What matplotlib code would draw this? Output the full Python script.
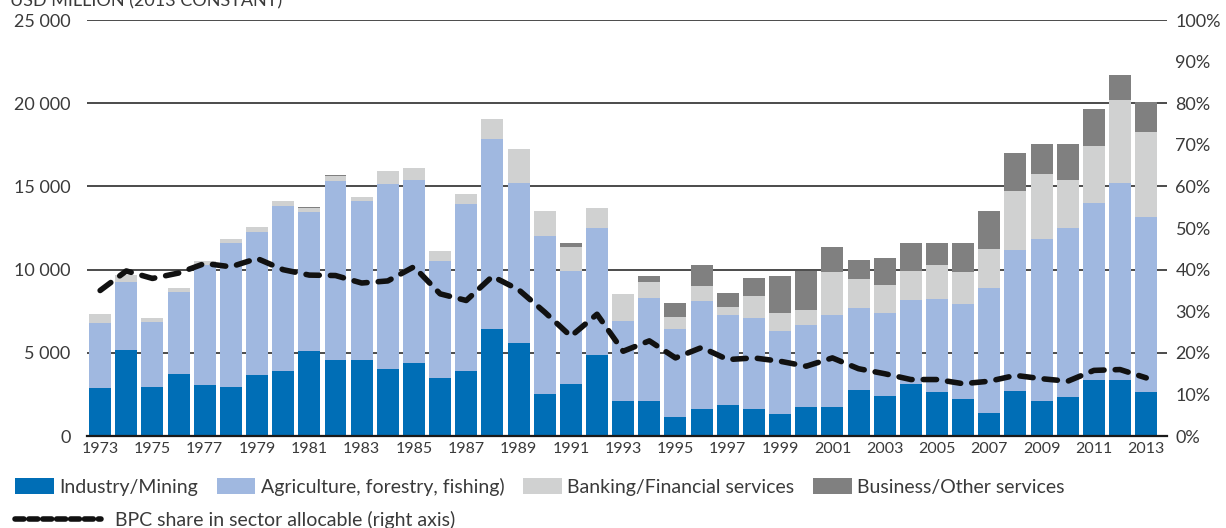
import matplotlib
matplotlib.use("Agg")
import matplotlib.pyplot as plt
import matplotlib.ticker as mticker
from matplotlib.patches import Patch
from matplotlib.lines import Line2D
import numpy as np

plt.rcParams['font.family'] = ['Lato', 'DejaVu Sans']

years = list(range(1973, 2014))

# stacked tops (USD million), then turned into segments
industry = [2920, 5200, 2980, 3760, 3100, 2980, 3700, 3900, 5140, 4600,
            4600, 4060, 4420, 3520, 3940, 6460, 5620, 2560, 3160, 4900,
            2140, 2140, 1120, 1660, 1900, 1600, 1300, 1780, 1780, 2800,
            2440, 3160, 2680, 2260, 1360, 2740, 2140, 2380, 3400, 3400,
            2680]
agri_top = [6820, 9280, 6880, 8680, 10300, 11620, 12280, 13840, 13480, 15340,
            14140, 15160, 15400, 10540, 13960, 17860, 15220, 12040, 9940, 12520,
            6940, 8320, 6460, 8140, 7300, 7120, 6340, 6700, 7300, 7720,
            7420, 8200, 8260, 7960, 8920, 11200, 11860, 12520, 14020, 15220,
            13180]
bank_top = [7340, 9680, 7120, 8920, 10540, 11820, 12580, 14120, 13680, 15660,
            14380, 15940, 16120, 11140, 14560, 19080, 17260, 13500, 11380, 13680,
            8520, 9280, 7180, 9040, 7780, 8440, 7420, 7600, 9880, 9460,
            9100, 9940, 10300, 9880, 11260, 14740, 15760, 15400, 17440, 20200,
            18280]
business_top = [7340, 9680, 7120, 8920, 10540, 11860, 12580, 14120, 13740, 15700,
                14380, 15940, 16120, 11140, 14560, 19080, 17260, 13540, 11620, 13720,
                8560, 9640, 8020, 10300, 8620, 9520, 9640, 9940, 11380, 10600,
                10720, 11620, 11620, 11620, 13540, 17020, 17560, 17560, 19660, 21700,
                20080]
bpc_share = [35.0, 39.7, 37.9, 39.2, 41.5, 40.7, 42.7, 40.0, 38.7, 38.6,
             36.8, 37.3, 40.7, 34.2, 32.6, 38.4, 35.2, 29.8, 24.0, 29.3,
             20.4, 22.9, 18.8, 21.3, 18.4, 18.8, 18.0, 16.8, 18.8, 16.2,
             15.0, 13.6, 13.6, 12.6, 13.2, 14.6, 13.8, 13.2, 15.8, 16.0,
             14.0]

labels = ["Industry/Mining", "Agriculture, forestry, fishing)",
          "Banking/Financial services", "Business/Other services"]
colors = ["#006eb6", "#a0b8e0", "#d0d1d1", "#808080"]

ind = np.array(industry)
agri = np.array(agri_top) - ind
bank = np.array(bank_top) - np.array(agri_top)
bus = np.array(business_top) - np.array(bank_top)

fig = plt.figure(figsize=(12.26, 5.28), dpi=100)
ax = fig.add_axes([0.071, 0.174, 0.881, 0.788])

w = 0.84
ax.bar(years, ind, w, color=colors[0], zorder=2)
ax.bar(years, agri, w, bottom=ind, color=colors[1], zorder=2)
ax.bar(years, bank, w, bottom=agri_top, color=colors[2], zorder=2)
ax.bar(years, bus, w, bottom=bank_top, color=colors[3], zorder=2)

ax.set_xlim(1972.5, 2013.8)
ax.set_ylim(0, 25000)
ax.set_yticks(range(0, 25001, 5000))
ax.yaxis.set_major_formatter(mticker.FuncFormatter(lambda v, p: f"{int(v):,}".replace(",", " ")))
ax.set_xticks(years[::2])
ax.grid(axis='y', color='#1a1a1a', lw=1.1, zorder=1)
for s in ['top', 'right', 'left']:
    ax.spines[s].set_visible(False)
ax.spines['bottom'].set_color('#1a1a1a')
ax.spines['bottom'].set_linewidth(1.6)
ax.spines['bottom'].set_zorder(3)
ax.tick_params(axis='y', length=0, pad=12, labelsize=13, labelcolor='#3a3a3a')
ax.tick_params(axis='x', length=0, pad=4, labelsize=11.5, labelcolor='#3a3a3a')

ax2 = ax.twinx()
ax2.plot(years, bpc_share, color='#111111', lw=4, dashes=(2.4, 2.0),
         dash_capstyle='round', solid_capstyle='round', zorder=5)
ax2.set_ylim(0, 100)
ax2.set_yticks(range(0, 101, 10))
ax2.yaxis.set_major_formatter(mticker.FuncFormatter(lambda v, p: f"{int(v)}%"))
for s in ax2.spines.values():
    s.set_visible(False)
ax2.tick_params(axis='y', length=0, pad=6, labelsize=13, labelcolor='#3a3a3a')

fig.text(0.008, 1 - 6 / 528, "USD MILLION (2013 CONSTANT)", fontsize=13,
         color='#3a3a3a', va='baseline', ha='left')

handles = [Patch(facecolor=c) for c in colors]
fig.legend(handles, labels, ncol=4, loc='center left', bbox_to_anchor=(0.0122, 0.078),
           frameon=False, fontsize=14, handlelength=2.0, handleheight=0.9,
           handletextpad=0.28, columnspacing=0.95, borderpad=0, borderaxespad=0,
           labelcolor='#3a3a3a')
line_h = Line2D([0], [0], color='#111111', lw=4, dashes=(1.6, 0.9), dash_capstyle='round')
fig.legend([line_h], ["BPC share in sector allocable (right axis)"], loc='center left',
           bbox_to_anchor=(0.0122, 0.016), frameon=False, fontsize=14, handlelength=4.4,
           handletextpad=0.75, borderpad=0, borderaxespad=0, labelcolor='#3a3a3a')

fig.savefig("out.png", dpi=100)
